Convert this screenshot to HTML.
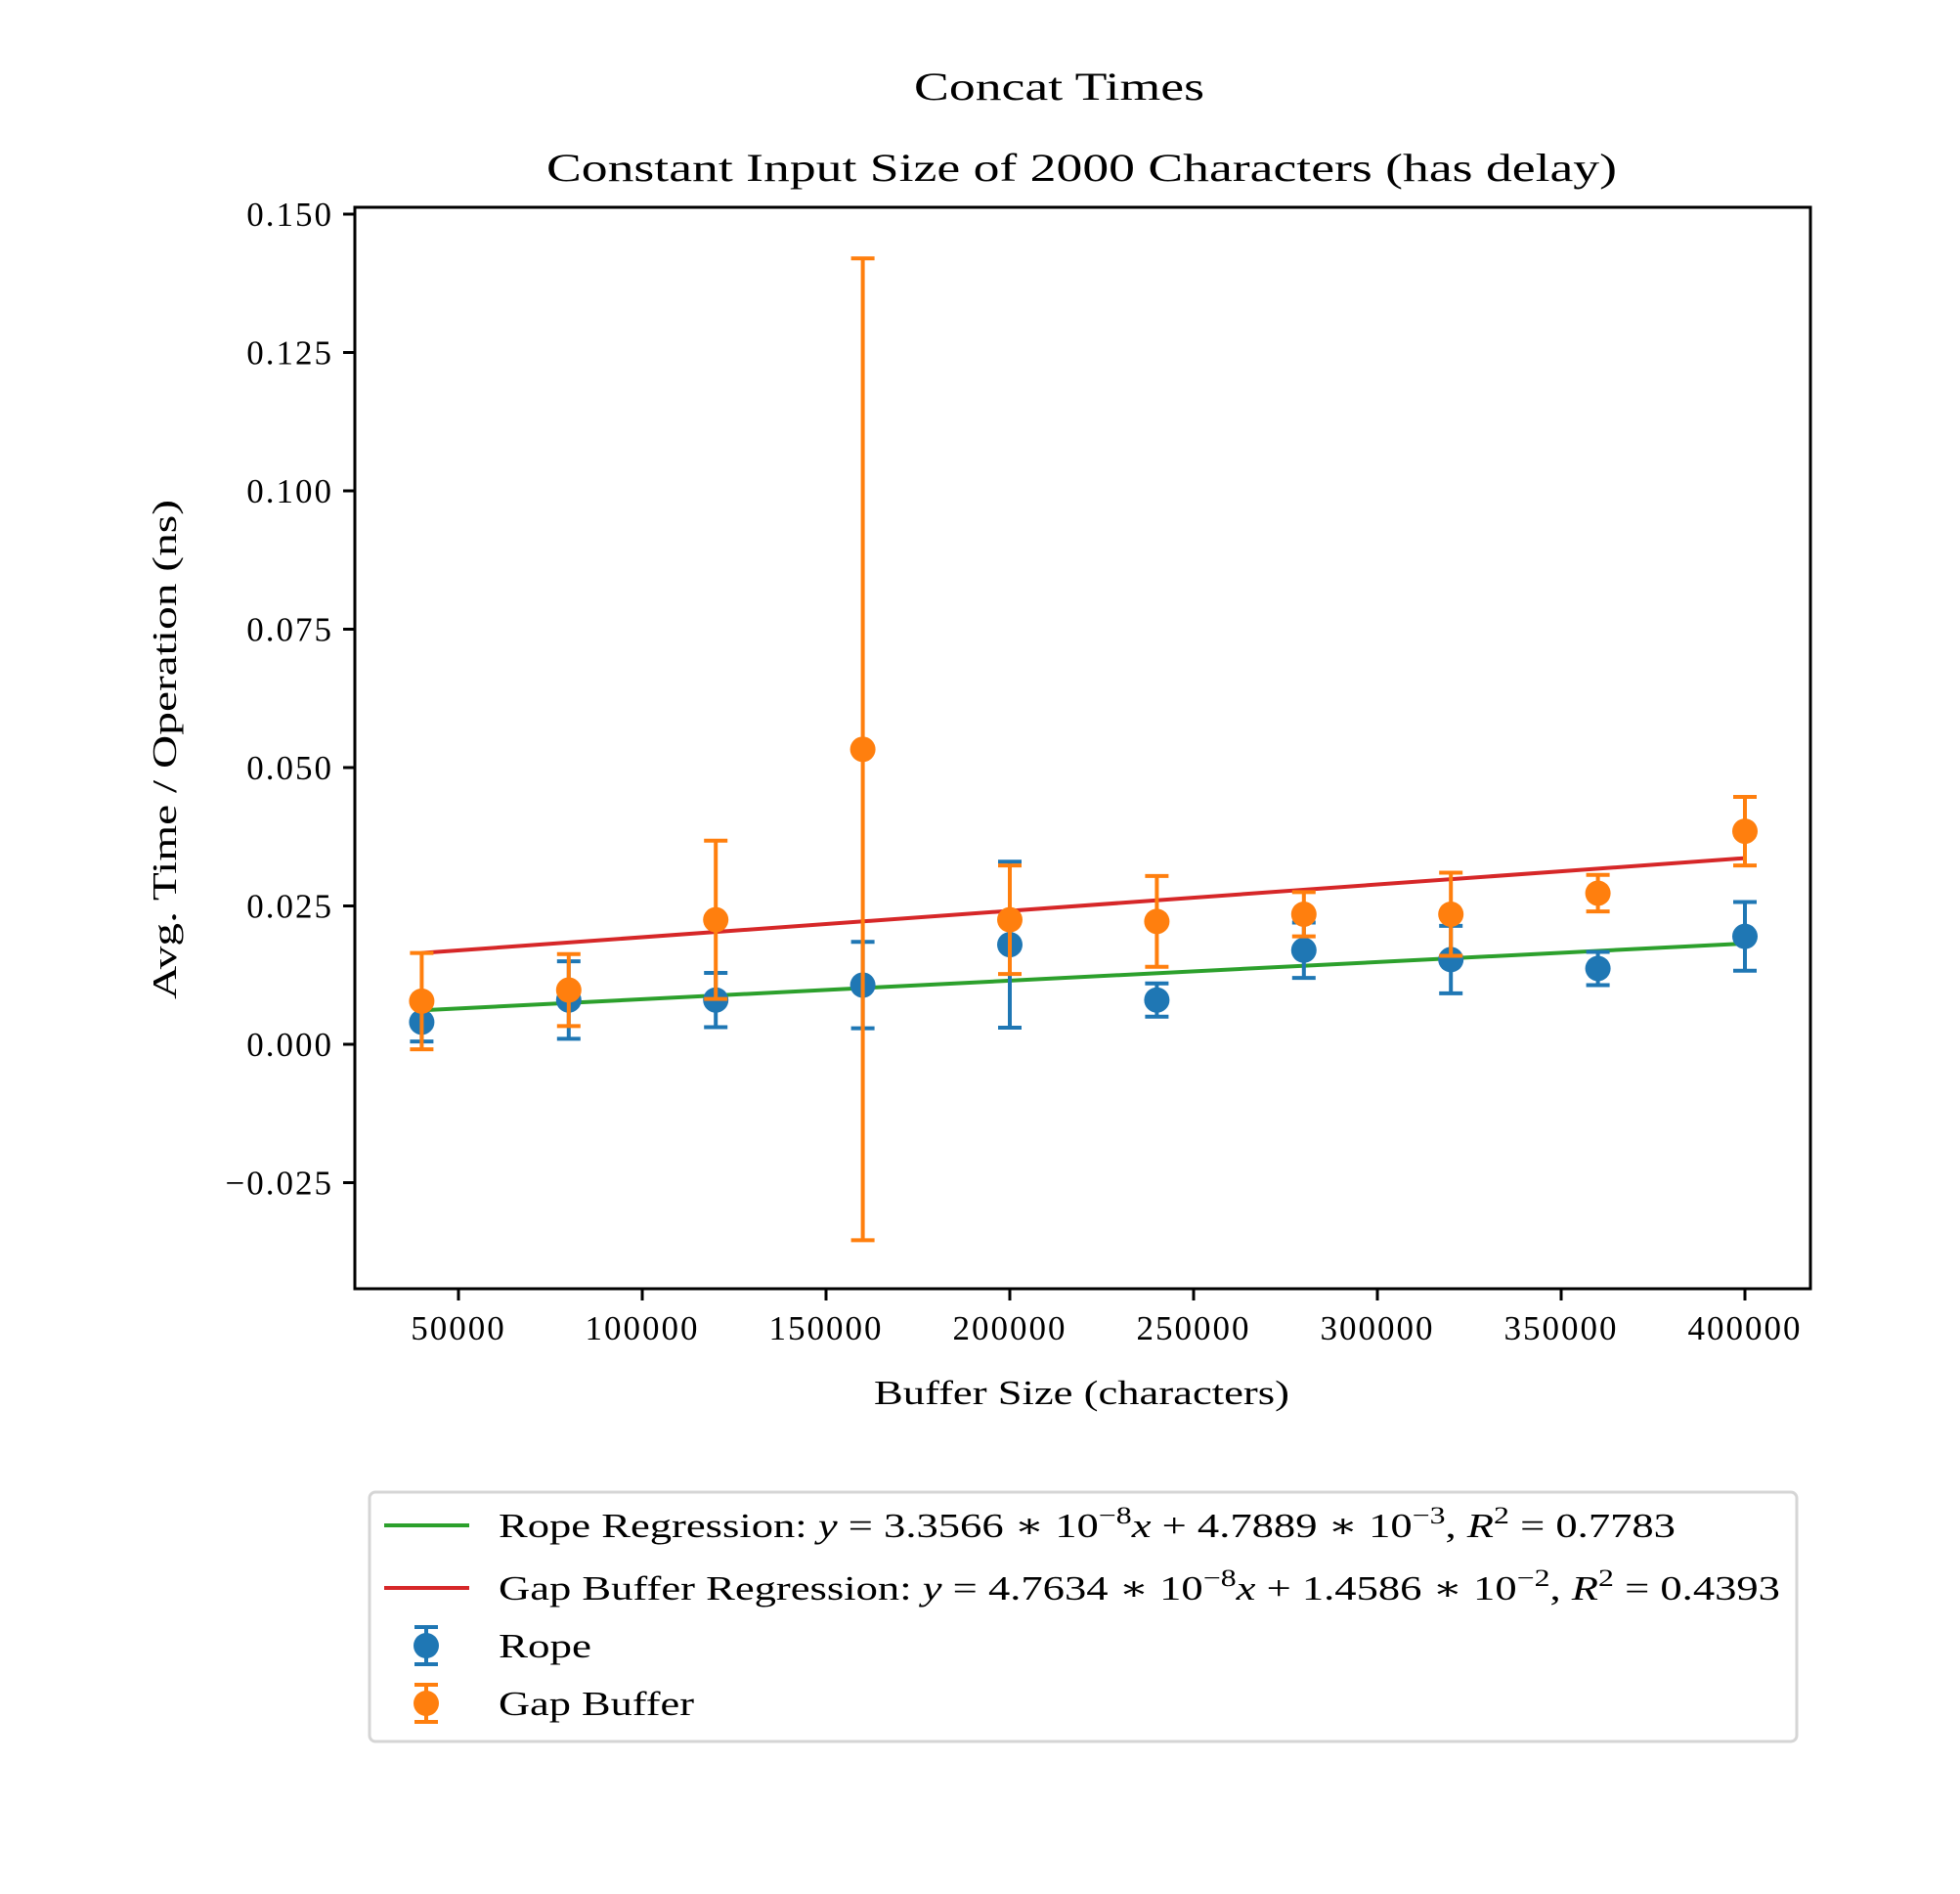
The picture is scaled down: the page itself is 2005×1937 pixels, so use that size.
<!DOCTYPE html>
<html><head><meta charset="utf-8"><style>
body{margin:0;background:#fff}
svg text{font-family:"Liberation Serif","DejaVu Serif",serif;fill:#000}
</style></head><body>
<svg id="chart" width="2005" height="1932" xmlns="http://www.w3.org/2000/svg">
<text x="935" y="102" font-size="40" textLength="297" lengthAdjust="spacingAndGlyphs">Concat Times</text>
<text x="559" y="185" font-size="40" textLength="1095" lengthAdjust="spacingAndGlyphs">Constant Input Size of 2000 Characters (has delay)</text>
<g id="plot"></g>
<text x="894" y="1436" font-size="35" textLength="425" lengthAdjust="spacingAndGlyphs">Buffer Size (characters)</text>
<text x="-255" y="0" font-size="35" textLength="511" lengthAdjust="spacingAndGlyphs" transform="translate(180,767) rotate(-90)">Avg. Time / Operation (ns)</text>
<g>
<rect x="378" y="1526" width="1460" height="255" rx="6" fill="#fff" stroke="#d5d5d5" stroke-width="3"/>
<line x1="393" y1="1560" x2="480" y2="1560" stroke="#2ca02c" stroke-width="4"/>
<text x="510" y="1572" font-size="35" textLength="1204" lengthAdjust="spacingAndGlyphs">Rope Regression: <tspan font-style="italic">y</tspan> = 3.3566 ∗ 10<tspan dy="-14" font-size="25">−8</tspan><tspan dy="14" font-style="italic">x</tspan> + 4.7889 ∗ 10<tspan dy="-14" font-size="25">−3</tspan><tspan dy="14">, </tspan><tspan font-style="italic">R</tspan><tspan dy="-14" font-size="25">2</tspan><tspan dy="14"> = 0.7783</tspan></text>
<line x1="393" y1="1624" x2="480" y2="1624" stroke="#d62728" stroke-width="4"/>
<text x="510" y="1636" font-size="35" textLength="1311" lengthAdjust="spacingAndGlyphs">Gap Buffer Regression: <tspan font-style="italic">y</tspan> = 4.7634 ∗ 10<tspan dy="-14" font-size="25">−8</tspan><tspan dy="14" font-style="italic">x</tspan> + 1.4586 ∗ 10<tspan dy="-14" font-size="25">−2</tspan><tspan dy="14">, </tspan><tspan font-style="italic">R</tspan><tspan dy="-14" font-size="25">2</tspan><tspan dy="14"> = 0.4393</tspan></text>
<g stroke="#1f77b4" stroke-width="4"><line x1="436" y1="1664" x2="436" y2="1702"/><line x1="424" y1="1664" x2="448" y2="1664"/><line x1="424" y1="1702" x2="448" y2="1702"/></g>
<circle cx="436" cy="1683" r="13" fill="#1f77b4"/>
<text x="510" y="1695" font-size="35" textLength="95" lengthAdjust="spacingAndGlyphs">Rope</text>
<g stroke="#ff7f0e" stroke-width="4"><line x1="436" y1="1723" x2="436" y2="1761"/><line x1="424" y1="1723" x2="448" y2="1723"/><line x1="424" y1="1761" x2="448" y2="1761"/></g>
<circle cx="436" cy="1742" r="13" fill="#ff7f0e"/>
<text x="510" y="1754" font-size="35" textLength="200" lengthAdjust="spacingAndGlyphs">Gap Buffer</text>
</g>
</svg>
<script>
const xs = [40000,80000,120000,160000,200000,240000,280000,320000,360000,400000];
const ropeY = [0.004,0.008,0.008,0.0107,0.018,0.008,0.017,0.0153,0.0137,0.0195];
const ropeErr = [0.0035,0.007,0.0049,0.0078,0.015,0.003,0.005,0.0061,0.003,0.0062];
const gapY = [0.0078,0.0098,0.0225,0.0533,0.0225,0.0222,0.0235,0.0235,0.0273,0.0385];
const gapErr = [0.0087,0.0065,0.0143,0.0887,0.0098,0.0082,0.004,0.0075,0.0033,0.0062];
const ropeFit = [3.3566e-8, 4.7889e-3];
const gapFit = [4.7634e-8, 1.4586e-2];
const xTicks = [50000,100000,150000,200000,250000,300000,350000,400000];
const yTicks = [-0.025,0,0.025,0.05,0.075,0.1,0.125,0.15];
const yTickLabels = ["\u22120.025","0.000","0.025","0.050","0.075","0.100","0.125","0.150"];

const L=363,R=1852,T=212,B=1318;
const sx=v=>281+v*(188/50000);
const sy=v=>1068-v*(141.5/0.025);
const NS="http://www.w3.org/2000/svg";
const g=document.getElementById('plot');
function mk(tag,attrs,parent){const e=document.createElementNS(NS,tag);for(const k in attrs)e.setAttribute(k,attrs[k]);(parent||g).appendChild(e);return e;}

xTicks.forEach((v,i)=>{
  const t=mk('line',{x1:sx(v),x2:sx(v),y1:B,y2:B+12,stroke:'#000','stroke-width':3});
  
  
  const l=mk('text',{x:sx(v),y:B+52,'font-size':35,'text-anchor':'middle','letter-spacing':2});
  l.textContent=String(v);
  
  
});
yTicks.forEach((v,i)=>{
  const t=mk('line',{x1:L-12,x2:L,y1:sy(v),y2:sy(v),stroke:'#000','stroke-width':3});
  
  
  const l=mk('text',{x:L-22,y:sy(v)+12,'font-size':35,'text-anchor':'end','letter-spacing':2});
  l.textContent=yTickLabels[i];
  
  
});

function fitLine(fit,color,name){
  const x0=xs[0],x1=xs[xs.length-1];
  const e=mk('line',{x1:sx(x0),y1:sy(fit[0]*x0+fit[1]),x2:sx(x1),y2:sy(fit[0]*x1+fit[1]),stroke:color,'stroke-width':4});
  
  
}
function series(ys,errs,color,name){
  xs.forEach((x,i)=>{
    const grp=mk('g',{stroke:color,'stroke-width':4});
    
    
    const cx=sx(x),lo=sy(ys[i]-errs[i]),hi=sy(ys[i]+errs[i]);
    mk('line',{x1:cx,x2:cx,y1:lo,y2:hi},grp);
    mk('line',{x1:cx-12,x2:cx+12,y1:lo,y2:lo},grp);
    mk('line',{x1:cx-12,x2:cx+12,y1:hi,y2:hi},grp);
  });
  xs.forEach((x,i)=>{
    const c=mk('circle',{cx:sx(x),cy:sy(ys[i]),r:13,fill:color});
    
    
  });
}
fitLine(ropeFit,'#2ca02c','rope-regression-line');
fitLine(gapFit,'#d62728','gap-regression-line');
series(ropeY,ropeErr,'#1f77b4','rope');
series(gapY,gapErr,'#ff7f0e','gap-buffer');
const fr=mk('rect',{x:L,y:T,width:R-L,height:B-T,fill:'none',stroke:'#000','stroke-width':3});


</script>
</body></html>
